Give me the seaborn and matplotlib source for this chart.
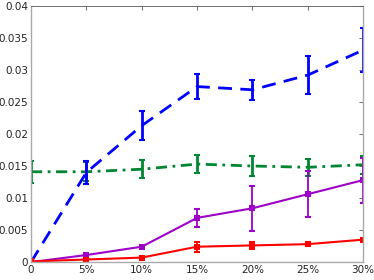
import matplotlib
matplotlib.use("Agg")
import matplotlib.pyplot as plt
import seaborn as sns
import numpy as np
import pandas as pd

sns.set_theme(style="white")
plt.rcParams['font.family'] = ['DejaVu Sans']

x_vals = [0, 5, 10, 15, 20, 25, 30]
x_labels = ["0", "5%", "10%", "15%", "20%", "25%", "30%"]

blue_y = [0.0, 0.0140, 0.0213, 0.0274, 0.0269, 0.0292, 0.0331]
blue_e = [0.0, 0.0018, 0.0023, 0.0020, 0.0016, 0.0029, 0.0034]

green_y = [0.0141, 0.0141, 0.0145, 0.0153, 0.0150, 0.0148, 0.0152]
green_e = [0.0017, 0.0015, 0.0014, 0.0014, 0.0015, 0.0013, 0.0014]

purple_y = [0.0, 0.0011, 0.0024, 0.0069, 0.0084, 0.0106, 0.0128]
purple_e = [0.0, 0.0002, 0.0002, 0.0014, 0.0035, 0.0036, 0.0035]

red_y = [0.0001, 0.0004, 0.0007, 0.0024, 0.0026, 0.0028, 0.0035]
red_e = [0.0001, 0.0002, 0.0003, 0.0008, 0.0005, 0.0003, 0.0003]

df = pd.DataFrame({"x": x_vals * 4,
                   "y": blue_y + green_y + purple_y + red_y,
                   "e": blue_e + green_e + purple_e + red_e,
                   "s": ["blue"] * 7 + ["green"] * 7 + ["purple"] * 7 + ["red"] * 7})

fig, ax = plt.subplots(figsize=(3.74, 2.80), dpi=100)
fig.subplots_adjust(left=0.083, right=0.971, bottom=0.064, top=0.979)

styles = {
    "blue": dict(color="#0000ff", ls=(0, (5, 3)), lw=2.0, marker=None),
    "green": dict(color="#008533", ls=(0, (4, 2, 1, 2)), lw=2.0, marker=None),
    "purple": dict(color="#9e00c8", ls="-", lw=1.5, marker="s"),
    "red": dict(color="#ff0000", ls="-", lw=1.5, marker="s"),
}

for name in ["green", "blue", "purple", "red"]:
    st = styles[name]
    d = df[df["s"] == name]
    sns.lineplot(data=d, x="x", y="y", ax=ax, color=st["color"], linestyle=st["ls"],
                 linewidth=st["lw"], marker=st["marker"], markersize=4,
                 markeredgewidth=0, legend=False)
    mask = d["e"].values > 0
    ax.errorbar(d["x"].values[mask], d["y"].values[mask], yerr=d["e"].values[mask],
                fmt="none", ecolor=st["color"], elinewidth=2.0 if name in ("blue", "green") else 1.3,
                capsize=2.5, capthick=1.5)

ax.set_xlim(0, 30)
ax.set_ylim(0, 0.04)
ax.set_xticks(x_vals)
ax.set_xticklabels(x_labels)
ax.set_yticks([0, 0.005, 0.01, 0.015, 0.02, 0.025, 0.03, 0.035, 0.04])
ax.set_yticklabels(["0", "0.005", "0.01", "0.015", "0.02", "0.025", "0.03", "0.035", "0.04"])
ax.set_xlabel("")
ax.set_ylabel("")
ax.tick_params(direction="in", length=3, width=0.6, colors="#555555", labelsize=7.5,
               labelcolor="#222222", top=True, right=True, pad=2)
for sp in ax.spines.values():
    sp.set_color("#aaaaaa")
    sp.set_linewidth(1.0)
ax.spines["top"].set_color("#555555")
ax.spines["top"].set_linewidth(0.6)

fig.savefig("out.png", dpi=100)
